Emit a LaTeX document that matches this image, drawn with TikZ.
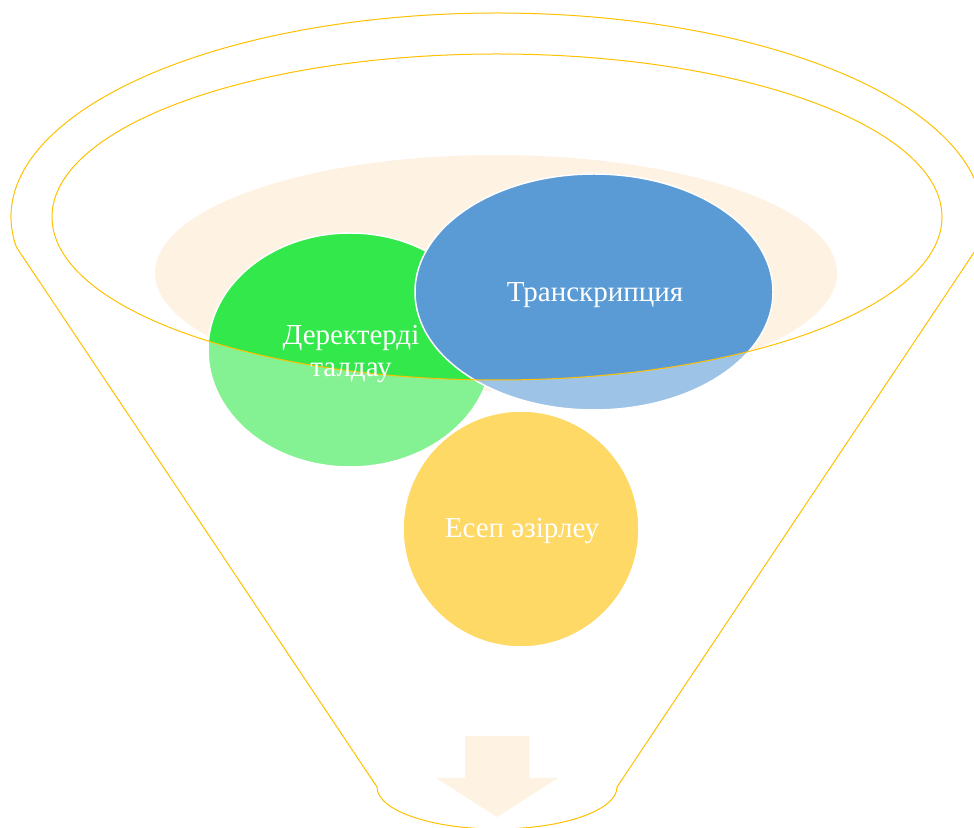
\documentclass[tikz,border=0pt]{standalone}
\usepackage{fontspec}
\setmainfont{Liberation Serif}
\definecolor{funnelorange}{HTML}{FFC000}
\definecolor{peach}{HTML}{FEF2E3}
\definecolor{greenball}{HTML}{32E84A}
\definecolor{blueball}{HTML}{5B9BD5}
\definecolor{yellowball}{HTML}{FFD966}

\begin{document}
\begin{tikzpicture}[x=1pt, y=1pt,
    funnel/.style = {draw=funnelorange, line width=1pt},
    rim/.style = {draw=white, line width=1.5pt},
    balltext/.style = {text=white, align=center, font=\fontsize{29}{32}\selectfont}]
  \useasboundingbox (0,0) rectangle (974,827);
  % back of the funnel and the arrow out of it
  \fill[peach] (496,554) ellipse [x radius=341, y radius=118];
  \fill[peach] (465,91) -- (529,91) -- (529,49) -- (558,49) -- (497,10)
    -- (436,49) -- (465,49) -- cycle;

  % balls: pale below the rim, full inside it
  \fill[greenball!60!white] (350,477) ellipse [x radius=142, y radius=117];
  \begin{scope}
    \clip (497,610) ellipse [x radius=445, y radius=163];
    \fill[greenball] (350,477) ellipse [x radius=142, y radius=117];
  \end{scope}
  \draw[rim] (350,477) ellipse [x radius=142, y radius=117];

  \fill[blueball!60!white] (594,535) ellipse [x radius=179, y radius=118];
  \begin{scope}
    \clip (497,610) ellipse [x radius=445, y radius=163];
    \fill[blueball] (594,535) ellipse [x radius=179, y radius=118];
  \end{scope}
  \draw[rim] (594,535) ellipse [x radius=179, y radius=118];

  \fill[yellowball] (521,298) circle (118);
  \draw[rim] (521,298) circle (118);

  % funnel outline
  \draw[funnel] (16.3,580) arc [start angle=188.46, end angle=-8.46, x radius=486, y radius=204]
    -- (617,40) arc [start angle=0, end angle=-180, x radius=120, y radius=42] -- cycle;
  \draw[funnel] (497,610) ellipse [x radius=445, y radius=163];

  \node[balltext] (analysis) at (351,473) {Деректерді\\талдау};
  \node[balltext] (transcript) at (595,532) {Транскрипция};
  \node[balltext] (report) at (522,296) {Есеп әзірлеу};
\end{tikzpicture}
\end{document}
